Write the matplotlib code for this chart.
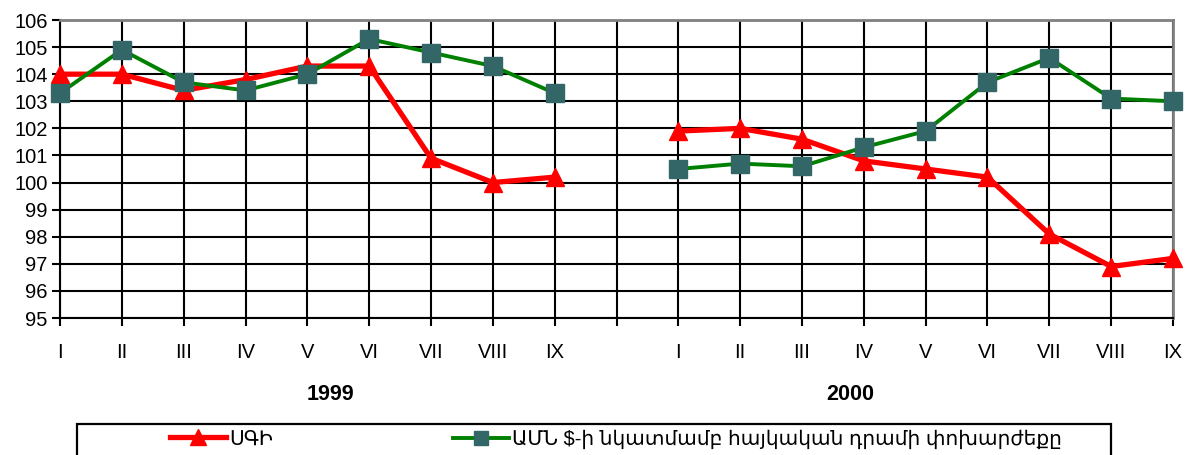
import numpy as np
import matplotlib
matplotlib.use("Agg")
import matplotlib.pyplot as plt
from matplotlib.lines import Line2D
from matplotlib.patches import Rectangle

plt.rcParams['font.family'] = ['Liberation Sans', 'DejaVu Sans']

months = ["I", "II", "III", "IV", "V", "VI", "VII", "VIII", "IX"]
tick_labels = months + [""] + months
years = ["1999", "2000"]

cpi_1999 = [104.0, 104.0, 103.4, 103.8, 104.3, 104.3, 100.9, 100.0, 100.2]
cpi_2000 = [101.9, 102.0, 101.6, 100.8, 100.5, 100.2, 98.1, 96.9, 97.2]
fx_1999 = [103.3, 104.9, 103.7, 103.4, 104.0, 105.3, 104.8, 104.3, 103.3]
fx_2000 = [100.5, 100.7, 100.6, 101.3, 101.9, 103.7, 104.6, 103.1, 103.0]

label_cpi = "ՍԳԻ"
label_fx = "ԱՄՆ $-ի նկատմամբ հայկական դրամի փոխարժեքը"

cpi = np.array(cpi_1999 + [np.nan] + cpi_2000)
fx = np.array(fx_1999 + [np.nan] + fx_2000)
x = np.arange(len(tick_labels))

W, H = 1189, 455
fig = plt.figure(figsize=(W / 100, H / 100), dpi=100)
ax = fig.add_axes([60 / W, 1 - 318 / H, (1173 - 60) / W, (318 - 20) / H])

red = "#FF0000"
green = "#008000"
sq = "#336666"
FS = 14.5

l1, = ax.plot(x, cpi, color=red, lw=3.8, marker="^", ms=13, mfc=red, mec=red,
              zorder=3, clip_on=False)
l2, = ax.plot(x, fx, color=green, lw=2.8, marker="s", ms=12.5, mfc=sq, mec=sq,
              zorder=4, clip_on=False)

ax.set_xlim(0, len(tick_labels) - 1)
ax.set_ylim(95, 106)
ax.set_yticks(np.arange(95, 107, 1))
ax.set_xticks(x)
ax.set_xticklabels(tick_labels)
ax.grid(True, color="black", lw=1.5, zorder=1)
ax.set_axisbelow(True)
ax.tick_params(axis="both", direction="out", length=6, width=1.5, color="black",
               labelsize=FS)
ax.tick_params(axis="x", pad=12)
ax.tick_params(axis="y", pad=3)
for s in ["left", "bottom"]:
    ax.spines[s].set_color("black")
    ax.spines[s].set_linewidth(1.5)
for s in ["top", "right"]:
    ax.spines[s].set_color("#808080")
    ax.spines[s].set_linewidth(2)

fig.text(330 / W, 1 - 395 / H, years[0], ha="center", va="center",
         fontsize=15.5, fontweight="bold")
fig.text(850 / W, 1 - 395 / H, years[1], ha="center", va="center",
         fontsize=15.5, fontweight="bold")

# legend box
fig.patches.append(Rectangle((77 / W, -0.1), (1111 - 77) / W, 1 - 424 / H + 0.1,
                             transform=fig.transFigure, fill=False,
                             edgecolor="black", lw=1.6))

def add_leg(handle, label, x0):
    h = Line2D([], [], color=handle.get_color(), lw=handle.get_linewidth(),
               marker=handle.get_marker(), ms=handle.get_markersize() * 0.85,
               mfc=handle.get_markerfacecolor(), mec=handle.get_markeredgecolor())
    leg = fig.legend([h], [label], loc="center left",
                     bbox_to_anchor=(x0 / W, 1 - 439 / H), frameon=False,
                     handlelength=2.8, handletextpad=0.15, borderpad=0,
                     borderaxespad=0, fontsize=FS)
    return leg

add_leg(l1, label_cpi, 170)
add_leg(l2, label_fx, 453)

fig.savefig("out.png", dpi=100)
